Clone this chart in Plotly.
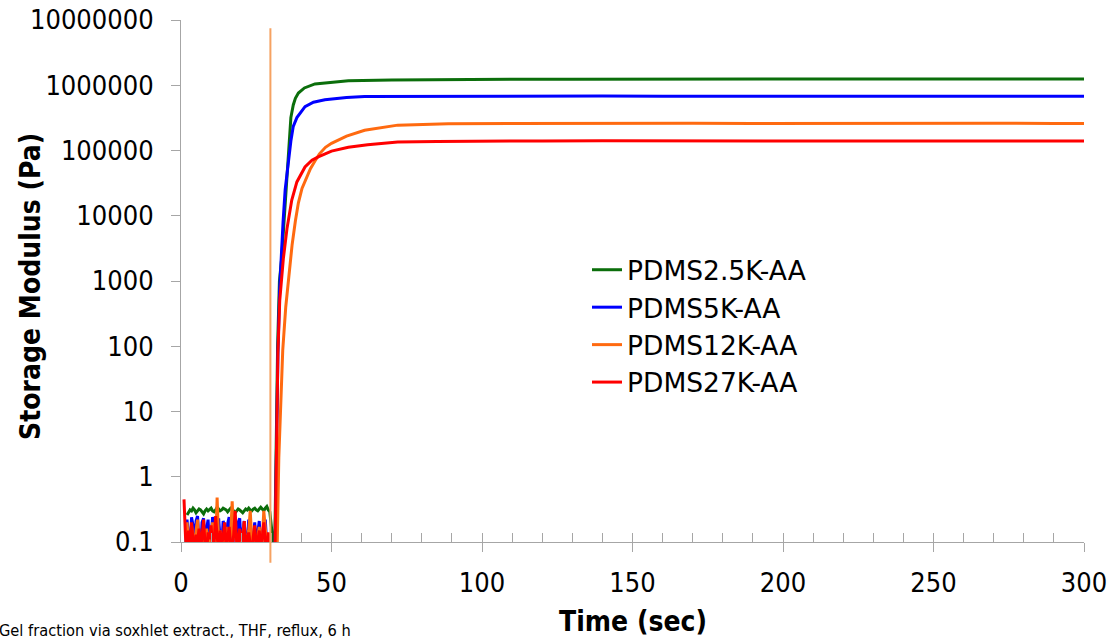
import plotly.graph_objects as go
import numpy as np

# ---------------- data ----------------
series_names = ["PDMS2.5K-AA", "PDMS5K-AA", "PDMS12K-AA", "PDMS27K-AA"]
series_colors = ["#0b6e0b", "#0000ff", "#ff6a10", "#ff0000"]

noise_step = 0.5  # s, sampling of the pre-gel noisy region

green_noise_start = 2.0
green_noise = [0.26, 0.29, 0.31, 0.30, 0.33, 0.31, 0.28, 0.30, 0.32, 0.31, 0.29, 0.27, 0.30, 0.32,
               0.30, 0.31, 0.33, 0.30, 0.29, 0.31, 0.34, 0.32, 0.30, 0.31, 0.33, 0.32, 0.31, 0.29,
               0.31, 0.33, 0.32, 0.30, 0.28, 0.30, 0.32, 0.31, 0.29, 0.28, 0.30, 0.32, 0.31, 0.33,
               0.31, 0.30, 0.32, 0.33, 0.31, 0.30, 0.32, 0.34, 0.32, 0.30, 0.33, 0.35, 0.31, 0.29]
green_t = [31.1, 31.6, 32.1, 32.7, 33.4, 34.5, 35.5, 36.5, 37.3, 38.0, 39.0, 41.0, 44.5, 50.0,
           55.6, 70.0, 90.0, 110.0, 130.0, 150.0, 170.0, 190.0, 210.0, 230.0, 250.0, 270.0,
           290.0, 300.0]
green_val = [0.06, 4.0, 100, 1000, 2100, 1.26e4, 7.1e4, 3.2e5, 5.0e5, 6.3e5, 7.6e5, 9.1e5,
             1.05e6, 1.12e6, 1.175e6, 1.21e6, 1.23e6, 1.24e6, 1.235e6, 1.245e6, 1.24e6,
             1.245e6, 1.25e6, 1.245e6, 1.25e6, 1.25e6, 1.25e6, 1.25e6]

blue_noise_start = 1.5
blue_noise = [0.09, 0.22, 0.12, 0.07, 0.24, 0.18, 0.08, 0.21, 0.25, 0.10, 0.07, 0.20, 0.23, 0.09,
              0.16, 0.22, 0.08, 0.12, 0.24, 0.20, 0.07, 0.15, 0.23, 0.11, 0.08, 0.21, 0.17, 0.07,
              0.19, 0.24, 0.10, 0.09, 0.22, 0.14, 0.07, 0.20, 0.23, 0.09, 0.13, 0.21, 0.08, 0.10,
              0.22, 0.18, 0.07, 0.12, 0.20, 0.09, 0.15, 0.21, 0.08, 0.11, 0.19, 0.22, 0.09, 0.07]
blue_t = [31.2, 31.7, 32.2, 32.8, 33.3, 33.9, 34.6, 35.6, 36.5, 37.3, 38.5, 41.2, 44.0, 47.8,
          55.0, 61.0, 80.0, 100.0, 120.0, 140.0, 160.0, 180.0, 200.0, 220.0, 240.0, 260.0,
          280.0, 300.0]
blue_val = [0.06, 3.2, 80, 800, 2500, 7900, 2.5e4, 7.1e4, 1.4e5, 2.35e5, 3.2e5, 4.7e5, 5.5e5,
            6.0e5, 6.5e5, 6.75e5, 6.8e5, 6.85e5, 6.8e5, 6.85e5, 6.8e5, 6.8e5, 6.85e5, 6.8e5,
            6.8e5, 6.8e5, 6.8e5, 6.8e5]

orange_noise_start = 1.5
orange_noise = [0.08, 0.20, 0.10, 0.07, 0.18, 0.12, 0.08, 0.15, 0.22, 0.09, 0.07, 0.14, 0.10, 0.08,
                0.16, 0.11, 0.07, 0.13, 0.20, 0.12, 0.08, 0.48, 0.10, 0.15, 0.09, 0.07, 0.12, 0.17,
                0.10, 0.08, 0.13, 0.42, 0.11, 0.16, 0.09, 0.07, 0.14, 0.10, 0.12, 0.20, 0.08, 0.10,
                0.15, 0.30, 0.11, 0.08, 0.13, 0.09, 0.12, 0.17, 0.08, 0.10, 0.30, 0.14, 0.09, 0.12]
orange_t = [31.9, 32.5, 33.2, 33.8, 34.8, 35.8, 36.9, 38.0, 39.0, 40.2, 41.8, 43.0, 44.5, 46.0,
            48.0, 50.0, 55.0, 61.0, 72.0, 88.8, 110.0, 130.0, 150.0, 170.0, 190.0, 210.0,
            230.0, 250.0, 270.0, 290.0, 300.0]
orange_val = [0.06, 2.0, 20, 87, 400, 1260, 3550, 8300, 1.58e4, 2.63e4, 4.0e4, 5.25e4, 6.9e4,
              8.9e4, 1.12e5, 1.29e5, 1.66e5, 2.04e5, 2.45e5, 2.57e5, 2.6e5, 2.62e5, 2.6e5,
              2.62e5, 2.6e5, 2.62e5, 2.6e5, 2.6e5, 2.62e5, 2.6e5, 2.6e5]

red_noise_start = 1.0
red_noise = [0.45, 0.12, 0.08, 0.15, 0.09, 0.20, 0.11, 0.07, 0.13, 0.10, 0.16, 0.08, 0.12, 0.22,
             0.09, 0.07, 0.14, 0.11, 0.18, 0.08, 0.10, 0.25, 0.12, 0.08, 0.15, 0.09, 0.12, 0.20,
             0.08, 0.11, 0.17, 0.09, 0.07, 0.13, 0.30, 0.10, 0.08, 0.16, 0.12, 0.09, 0.21, 0.08,
             0.11, 0.14, 0.09, 0.07, 0.12, 0.18, 0.09, 0.10, 0.15, 0.08, 0.12, 0.20, 0.10, 0.08,
             0.14, 0.09]
red_t = [31.2, 31.7, 32.2, 32.8, 33.4, 34.0, 35.2, 36.8, 38.5, 41.2, 43.5, 45.6, 50.0, 55.6,
         62.0, 72.0, 85.0, 100.0, 120.0, 140.0, 160.0, 180.0, 200.0, 220.0, 240.0, 260.0,
         280.0, 300.0]
red_val = [0.06, 2.5, 80, 500, 1260, 2200, 6300, 1.74e4, 3.3e4, 5.6e4, 7.1e4, 8.0e4, 9.8e4,
           1.12e5, 1.23e5, 1.35e5, 1.38e5, 1.4e5, 1.4e5, 1.41e5, 1.4e5, 1.4e5, 1.4e5, 1.4e5,
           1.4e5, 1.4e5, 1.4e5, 1.4e5]

# stray vertical excursion of the PDMS12K-AA record at ~30 s
spike_t = [29.7, 29.7]
spike_val = [7.5e6, 0.048]

y_tickvals = [0.1, 1, 10, 100, 1000, 10000, 100000, 1000000, 10000000]
y_ticktext = ["0.1", "1", "10", "100", "1000", "10000", "100000", "1000000", "10000000"]
x_tickvals = [0, 50, 100, 150, 200, 250, 300]

# ---------------- figure ----------------
FONT = "DejaVu Sans Condensed, DejaVu Sans, sans-serif"
AX = "#a6a6a6"


def full_series(start, noise, t_rise, v_rise):
    t_noise = [round(start + i * noise_step, 2) for i in range(len(noise))]
    return t_noise + list(t_rise), list(noise) + list(v_rise)


data = [
    full_series(green_noise_start, green_noise, green_t, green_val),
    full_series(blue_noise_start, blue_noise, blue_t, blue_val),
    full_series(orange_noise_start, orange_noise, orange_t, orange_val),
    full_series(red_noise_start, red_noise, red_t, red_val),
]

fig = go.Figure()

# invisible helper trace so the minor-tick overlay axis is drawn
fig.add_trace(go.Scatter(x=[None], y=[None], xaxis="x2", yaxis="y", showlegend=False,
                         hoverinfo="skip"))

# spike drawn on a hidden axis that reaches a little below 0.1
fig.add_trace(go.Scatter(x=spike_t, y=spike_val, mode="lines", xaxis="x", yaxis="y2",
                         line=dict(color="#f6a262", width=2), showlegend=False,
                         hoverinfo="skip"))

for name, color, (tx, vy) in zip(series_names, series_colors, data):
    fig.add_trace(go.Scatter(x=tx, y=vy, mode="lines", name=name, xaxis="x", yaxis="y",
                             line=dict(color=color, width=3)))

W, H = 1115, 642
ml, mr, mt, mb = 181, 31, 20, 70
plot_h = H - mt - mb
plot_w = W - ml - mr
extra = 30  # px below the 0.1 line available for the spike
decade_px = (plot_h - extra) / 8.0
y_top = 7.0005


def px_x(page_x):
    return (page_x - ml) / plot_w


def px_y(page_y):
    return (H - mb - page_y) / plot_h


fig.update_layout(
    width=W, height=H,
    margin=dict(l=ml, r=mr, t=mt, b=mb, autoexpand=False),
    paper_bgcolor="white", plot_bgcolor="rgba(0,0,0,0)",
    font=dict(family=FONT, size=27, color="black"),
    showlegend=True,
    legend=dict(x=px_x(587), xanchor="left",
                y=px_y(246), yanchor="top",
                font=dict(size=26.5, family="DejaVu Sans, sans-serif"),
                bgcolor="rgba(0,0,0,0)", tracegroupgap=0, itemwidth=30),
    xaxis=dict(range=[0, 300], tickvals=x_tickvals, ticks="outside", ticklen=9,
               tickcolor=AX, showline=True, linecolor=AX, linewidth=1,
               showgrid=False, zeroline=False, anchor="y", automargin=False,
               ticklabelstandoff=8),
    xaxis2=dict(range=[0, 300], overlaying="x", anchor="y", dtick=10, tick0=0,
                ticks="inside", ticklen=9, tickcolor=AX, showticklabels=False,
                showline=False, showgrid=False, zeroline=False, automargin=False),
    yaxis=dict(type="log", range=[-1, y_top], tickvals=y_tickvals, ticktext=y_ticktext,
               domain=[extra / plot_h, 1], ticks="outside", ticklen=9, tickcolor=AX,
               showline=True, linecolor=AX, linewidth=1, showgrid=False, zeroline=False,
               ticklabelstandoff=12, automargin=False),
    yaxis2=dict(type="log", range=[-1 - extra / decade_px, y_top], domain=[0, 1], anchor="x",
                visible=False, automargin=False),
    annotations=[
        dict(text="Gel fraction via soxhlet extract., THF, reflux, 6 h",
             xref="paper", yref="paper", x=px_x(-3), y=px_y(630),
             xanchor="left", yanchor="middle", showarrow=False,
             font=dict(size=16.3, family=FONT, color="black")),
        dict(text="<b>Time (sec)</b>", xref="paper", yref="paper",
             x=px_x(633), y=px_y(621), xanchor="center", yanchor="middle",
             showarrow=False, font=dict(size=28, family=FONT, color="black")),
        dict(text="<b>Storage Modulus (Pa)</b>", xref="paper", yref="paper",
             x=px_x(30), y=px_y(287), xanchor="center", yanchor="middle",
             textangle=-90, showarrow=False, font=dict(size=28, family=FONT, color="black")),
    ],
)

# remove the default 8 px body margin so the figure fills the window exactly
fig.write_html("out.html", config={"displayModeBar": False},
               post_script="document.body.style.margin='0';document.body.style.overflow='hidden';")
